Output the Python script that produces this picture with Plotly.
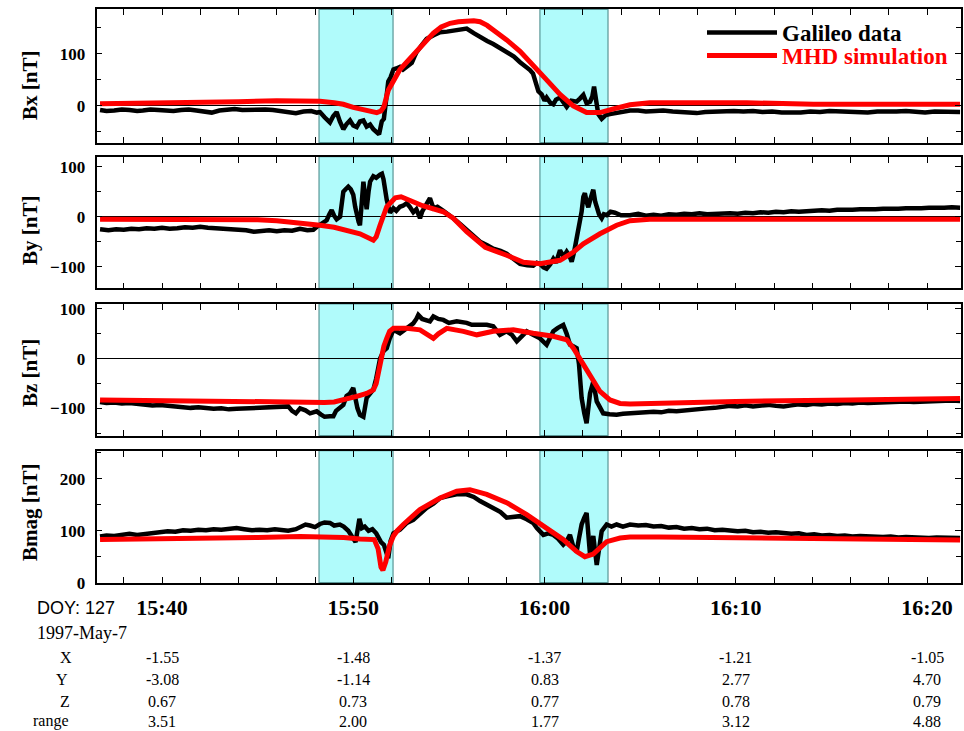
import pandas as pd
import plotly.graph_objects as go
from plotly.subplots import make_subplots

BASE = pd.Timestamp("1997-05-07 15:00:00")

# ---- Galileo magnetometer data (time in minutes after 15:00 UT, field in nT) ----
gal_bx_t = [36.76, 37.1, 37.5, 37.9, 38.3, 38.7, 39.0, 39.4, 39.8, 40.2, 40.6, 41.0, 41.4, 41.8,
            42.2, 42.6, 43.0, 43.4, 43.8, 44.2, 44.6, 45.0, 45.4, 45.8, 46.2, 46.6, 47.0, 47.4,
            47.8, 48.1, 48.26, 48.5, 48.78, 48.95, 49.13, 49.3, 49.48, 49.65,
            49.83, 50.0, 50.18, 50.35, 50.53, 50.7, 50.88, 51.05, 51.23, 51.35, 51.49, 51.6,
            51.71, 51.83, 51.95, 52.1, 52.25, 52.44, 52.6, 52.79, 52.95, 53.06, 53.2, 53.32,
            53.6, 53.84, 54.2, 54.54, 54.9, 55.23, 55.6, 55.93, 56.3, 56.63, 57.0, 57.32, 57.7,
            58.02, 58.4, 58.72, 59.0, 59.24, 59.4, 59.5, 59.6, 59.68, 59.85, 60.0, 60.11, 60.3,
            60.46, 60.6, 60.81, 61.0, 61.16, 61.4, 61.68, 61.85, 62.03, 62.2, 62.38, 62.5, 62.59,
            62.7, 62.81, 62.99, 63.2, 63.42, 63.7, 63.95, 64.47, 64.9, 65.3, 65.8, 66.2, 66.7,
            67.1, 67.5, 67.96, 68.4, 68.9, 69.4, 69.9, 70.4, 70.9, 71.4, 71.9, 72.4, 72.9, 73.4,
            73.9, 74.4, 74.9, 75.4, 75.9, 76.4, 76.9, 77.4, 77.9, 78.4, 78.9, 79.4, 79.9, 80.4,
            80.9, 81.3, 81.73]
gal_bx = [-8, -10, -9, -7, -8, -10, -9, -7, -8, -9, -10, -8, -7, -9,
          -11, -13, -9, -8, -6, -8, -7, -6, -7, -8, -10, -13, -14, -11,
          -10, -13, -12, -22, -32, -20, -12, -30, -45, -35,
          -28, -38, -41, -30, -28, -40, -36, -45, -50, -55, -30, -25,
          9, 47, 55, 70, 72, 75, 70, 75, 78, 83, 95, 104,
          118, 129, 136, 142, 143, 145, 146, 149, 140, 132, 125, 119, 111,
          104, 95, 84, 77, 69, 62, 50, 38, 28, 22, 10, 16, 6,
          3, 12, 16, 5, -2, 10, 8, 14, 21, 5, 8, 18, 37,
          10, -16, -25, -18, -16, -14, -12, -9, -9, -11, -10, -9, -11,
          -12, -11, -14, -12, -11, -12, -10, -11, -10, -12, -11, -13, -14, -13,
          -11, -12, -10, -11, -10, -12, -13, -11, -12, -11, -10, -12, -13, -11,
          -12, -13, -12]

gal_by_t = [36.76, 37.2, 37.6, 38.0, 38.4, 38.8, 39.2, 39.6, 40.0, 40.4, 40.8, 41.2, 41.6, 42.0,
            42.4, 42.8, 43.2, 43.6, 44.0, 44.4, 44.8, 45.2, 45.6, 46.0, 46.4, 46.8, 47.22, 47.6,
            47.91, 48.1, 48.26, 48.45, 48.61, 48.75, 48.87, 49.0, 49.13, 49.31, 49.4, 49.48,
            49.6, 49.74, 49.87, 50.0, 50.1, 50.18, 50.28, 50.35, 50.45, 50.53, 50.62, 50.7,
            50.8, 50.88, 51.05, 51.2, 51.4, 51.5, 51.58, 51.75, 51.92, 52.1, 52.25, 52.44,
            52.6, 52.79, 52.95, 53.14, 53.3, 53.49, 53.6, 53.75, 53.9, 54.01, 54.19, 54.4,
            54.71, 55.0, 55.23, 55.6, 55.93, 56.3, 56.63, 57.0, 57.32, 57.7, 58.02, 58.4,
            58.72, 59.1, 59.41, 59.6, 59.76, 59.95, 60.11, 60.3, 60.46, 60.6, 60.81, 61.0,
            61.16, 61.3, 61.42, 61.55, 61.68, 61.8, 61.94, 62.03, 62.11, 62.2, 62.29, 62.4,
            62.55, 62.65, 62.72, 62.85, 62.99, 63.1, 63.25, 63.45, 63.68, 64.0, 64.47, 64.9,
            65.3, 65.7, 66.1, 66.5, 66.9, 67.3, 67.7, 68.1, 68.5, 68.9, 69.3, 69.7, 70.1,
            70.5, 70.9, 71.3, 71.7, 72.1, 72.5, 72.9, 73.3, 73.7, 74.1, 74.5, 74.9, 75.3,
            75.7, 76.1, 76.5, 76.9, 77.3, 77.7, 78.1, 78.5, 78.9, 79.3, 79.7, 80.1, 80.5,
            80.9, 81.3, 81.73]
gal_by = [-25, -27, -25, -26, -24, -25, -23, -24, -22, -24, -23, -21, -22, -20,
          -22, -23, -22, -24, -25, -27, -30, -28, -27, -29, -27, -28, -24, -27,
          -26, -20, -16, -10, -7, 5, 13, 2, -5, 0, 30, 50,
          55, 60, 55, 44, 20, 3, -10, -17, 40, 70, 40, 15,
          50, 70, 81, 78, 84, 86, 75, 34, 8, 17, 12, 20,
          22, 27, 20, 9, 15, -3, 10, 20, 28, 37, 17, 20,
          12, 5, -3, -15, -27, -40, -50, -57, -64, -68, -74, -85,
          -94, -97, -98, -92, -94, -101, -104, -95, -84, -92, -67, -80,
          -70, -78, -90, -70, -44, -10, 10, 40, 47, 30, 19, 35,
          54, 30, 19, 5, -3, 5, 3, 10, 8, 3, 3, 6,
          2, 4, 2, 5, 4, 6, 5, 7, 5, 6, 5, 7, 6,
          8, 7, 9, 8, 10, 9, 11, 10, 12, 12, 13, 12, 14,
          13, 14, 15, 14, 15, 16, 15, 16, 17, 16, 17, 18, 17,
          18, 19, 18]

gal_bz_t = [36.76, 37.1, 37.5, 37.9, 38.3, 38.7, 39.1, 39.5, 39.9, 40.3, 40.7, 41.1, 41.5, 41.9,
            42.3, 42.7, 43.1, 43.5, 43.9, 44.3, 44.7, 45.1, 45.5, 45.9, 46.34, 46.6,
            46.8, 47.0, 47.22, 47.5, 47.74, 48.09, 48.3, 48.5, 48.78, 48.96, 49.1, 49.3, 49.48,
            49.65, 49.83, 50.0, 50.12, 50.22, 50.35, 50.53, 50.7, 50.88, 51.05, 51.2, 51.4,
            51.58, 51.75, 51.9, 52.1, 52.44, 52.79, 53.14, 53.3, 53.4, 53.6, 53.84, 54.01,
            54.19, 54.45, 54.71, 55.0, 55.41, 55.93, 56.2, 56.46, 56.98, 57.32, 57.67, 58.02,
            58.3, 58.55, 58.8, 59.07, 59.4, 59.76, 60.11, 60.3, 60.46, 60.7, 60.98, 61.16,
            61.33, 61.5, 61.68, 61.8, 61.94, 62.08, 62.2, 62.38, 62.55, 62.73, 62.9, 63.07,
            63.4, 63.77, 64.1, 64.47, 64.9, 65.3, 65.7, 66.1, 66.5, 66.9, 67.3, 67.7, 68.1,
            68.5, 68.9, 69.3, 69.7, 70.1, 70.5, 70.9, 71.3, 71.7, 72.1, 72.5, 72.9, 73.3,
            73.7, 74.1, 74.5, 74.9, 75.3, 75.7, 76.1, 76.5, 76.9, 77.3, 77.7, 78.1, 78.5,
            78.9, 79.3, 79.7, 80.1, 80.5, 80.9, 81.3, 81.73]
gal_bz = [-87, -89, -88, -90, -89, -91, -92, -94, -93, -95, -96, -97, -99, -98,
          -100, -101, -100, -102, -101, -100, -99, -98, -97, -98, -97, -96,
          -105, -110, -100, -104, -110, -106, -112, -117, -116, -116, -105, -100, -93,
          -75, -70, -59, -85, -100, -113, -117, -79, -70, -62, -40, 0,
          15, 21, 40, 58, 51, 60, 71, 80, 88, 80, 78, 75,
          85, 80, 78, 72, 75, 72, 68, 68, 68, 65, 48, 55,
          48, 35, 45, 55, 48, 41, 28, 45, 55, 62, 68, 50,
          28, 25, 21, -10, -79, -110, -130, -70, -46, -86, -100, -110,
          -112, -113, -111, -110, -108, -109, -107, -108, -105, -106, -104, -103, -102,
          -100, -99, -97, -95, -96, -94, -96, -94, -93, -95, -96, -94, -92,
          -93, -91, -92, -90, -91, -89, -90, -88, -89, -88, -87, -88, -87,
          -86, -87, -86, -85, -86, -85, -84, -85]

gal_bmag_t = [36.76, 37.1, 37.5, 37.9, 38.3, 38.7, 39.1, 39.5, 39.9, 40.3, 40.7, 41.1, 41.5, 41.9,
              42.3, 42.7, 43.1, 43.5, 43.9, 44.3, 44.7, 45.1, 45.5, 45.9, 46.3, 46.6, 47.0,
              47.22, 47.5, 47.74, 48.0, 48.26, 48.5, 48.78, 49.0, 49.3, 49.5, 49.74, 49.95,
              50.12, 50.22, 50.32, 50.45, 50.6, 50.8, 51.0, 51.2, 51.45, 51.6, 51.83, 51.95,
              52.1, 52.44, 52.8, 53.14, 53.49, 53.84, 54.19, 54.54, 54.9, 55.4, 55.93, 56.3,
              56.63, 57.0, 57.32, 57.7, 58.02, 58.37, 58.72, 59.07, 59.41, 59.6, 59.94, 60.2,
              60.46, 60.7, 60.98, 61.16, 61.33, 61.5, 61.68, 61.8, 61.94, 62.08, 62.2, 62.38,
              62.55, 62.73, 62.99, 63.25, 63.5, 63.77, 64.1, 64.47, 64.9, 65.3, 65.7, 66.1,
              66.5, 66.9, 67.3, 67.7, 68.1, 68.5, 68.9, 69.3, 69.7, 70.1, 70.5, 70.9, 71.3,
              71.7, 72.1, 72.5, 72.9, 73.3, 73.7, 74.1, 74.5, 74.9, 75.3, 75.7, 76.1, 76.5,
              76.9, 77.3, 77.7, 78.1, 78.5, 78.9, 79.3, 79.7, 80.1, 80.5, 80.9, 81.3, 81.73]
gal_bmag = [89, 91, 90, 93, 94, 92, 94, 96, 97, 99, 98, 101, 100, 102,
            101, 103, 102, 104, 105, 103, 101, 102, 101, 103, 102, 100, 103,
            108, 112, 110, 107, 113, 116, 115, 110, 112, 108, 100, 88,
            78, 100, 123, 105, 108, 100, 103, 95, 78, 73, 47, 80,
            95, 102, 115, 121, 133, 144, 152, 163, 166, 170, 170, 165,
            157, 150, 144, 136, 125, 126, 128, 122, 115, 105, 92, 95,
            92, 85, 73, 80, 92, 70, 60, 85, 112, 125, 134, 54,
            90, 34, 99, 112, 108, 112, 108, 112, 110, 111, 108, 109,
            106, 107, 104, 105, 103, 104, 101, 102, 100, 99, 100, 97, 98,
            96, 97, 95, 94, 95, 92, 93, 91, 92, 90, 91, 89, 90,
            89, 90, 88, 89, 87, 88, 87, 88, 86, 87, 86, 87, 86]

# ---- MHD simulation along the trajectory ----
mhd_bx_t = [36.76, 40.0, 44.0, 46.0, 47.22, 48.26, 49.0, 49.48, 50.0, 50.7, 51.23, 51.45, 51.6,
            51.83, 52.1, 52.44, 52.79, 53.32, 53.8, 54.19, 54.6, 55.06, 55.5, 55.93, 56.3,
            56.63, 57.0, 57.32, 58.02, 58.72, 59.41, 60.11, 60.81, 61.5, 62.2, 62.9, 63.6,
            64.47, 65.5, 68.0, 70.57, 74.06, 81.73]
mhd_bx = [4, 5, 8, 10, 10, 9, 6, 3, -3, -10, -13, -10, -2,
          30, 50, 70, 84, 105, 125, 140, 152, 159, 162, 163, 164,
          162, 155, 146, 127, 105, 79, 50, 22, 0, -13, -13, -6,
          2, 6, 7, 6, 3, 3]

mhd_by_t = [36.76, 40.0, 43.0, 45.0, 46.0, 47.22, 48.26, 49.0, 50.35, 51.05, 51.2, 51.4, 51.75,
            52.2, 52.5, 53.0, 53.62, 54.71, 55.23, 55.93, 56.9, 58.02, 58.9, 59.76, 60.81,
            61.5, 62.03, 62.9, 63.77, 64.47, 65.5, 70.0, 81.73]
mhd_by = [-5, -5, -5, -6, -8, -12, -17, -21, -34, -47, -40, -17, 20,
          38, 40, 32, 22, 10, -3, -30, -61, -77, -91, -94, -87,
          -71, -54, -34, -17, -8, -5, -5, -5]

mhd_bz_t = [36.76, 40.0, 44.0, 47.22, 48.5, 49.0, 49.83, 50.18, 50.7, 51.05, 51.2, 51.4, 51.6,
            51.75, 51.9, 52.1, 52.79, 53.49, 53.9, 54.19, 54.45, 54.89, 55.76, 56.46, 57.32,
            58.37, 59.41, 60.46, 61.16, 61.51, 61.94, 62.38, 62.9, 63.42, 63.95, 64.47, 66.0,
            70.0, 76.0, 81.73]
mhd_bz = [-83, -85, -87, -89, -88, -87, -80, -76, -70, -63, -50, -12, 25,
          41, 55, 61, 61, 58, 48, 41, 50, 61, 55, 48, 55,
          58, 51, 45, 38, 21, -6, -33, -66, -83, -90, -91, -89,
          -86, -83, -80]

mhd_bmag_t = [36.76, 40.0, 42.0, 45.0, 47.22, 48.5, 49.5, 50.35, 50.8, 51.1, 51.3, 51.45, 51.55,
              51.7, 51.9, 52.1, 52.3, 52.62, 53.49, 54.54, 55.41, 56.1, 56.98, 58.02, 59.07,
              60.11, 60.98, 61.68, 62.11, 62.55, 63.25, 63.95, 64.47, 66.0, 70.0, 75.0, 81.73]
mhd_bmag = [83, 84, 84, 87, 89, 88, 87, 84, 83, 83, 65, 30, 24,
            40, 72, 90, 100, 112, 141, 163, 176, 179, 170, 154, 131,
            105, 83, 60, 50, 55, 79, 86, 88, 88, 86, 84, 82]

# ---- panel settings ----
panel_titles = ["Bx [nT]", "By [nT]", "Bz [nT]", "Bmag [nT]"]
panel_ranges = [[-71, 186], [-143, 120], [-155, 110], [0, 254]]
title_centers_px = [86, 231, 373, 513]

# magnetopause crossing intervals (minutes after 15:00)
crossings = [(48.21, 52.08), (59.76, 63.32)]

# trajectory table below the time axis
table_times = [40, 50, 60, 70, 80]
table_rows = ["X", "Y", "Z", "range"]
pos_x = ["-1.55", "-1.48", "-1.37", "-1.21", "-1.05"]
pos_y = ["-3.08", "-1.14", "0.83", "2.77", "4.70"]
pos_z = ["0.67", "0.73", "0.77", "0.78", "0.79"]
pos_range = ["3.51", "2.00", "1.77", "3.12", "4.88"]


def to_time(minutes):
    return [BASE + pd.Timedelta(minutes=m) for m in minutes]


W, H = 964, 731
SERIF = "Liberation Serif"
SANS = "Liberation Sans"

fig = make_subplots(rows=4, cols=1, shared_xaxes=True, vertical_spacing=0.02)

galileo = [(gal_bx_t, gal_bx), (gal_by_t, gal_by), (gal_bz_t, gal_bz), (gal_bmag_t, gal_bmag)]
mhd = [(mhd_bx_t, mhd_bx), (mhd_by_t, mhd_by), (mhd_bz_t, mhd_bz), (mhd_bmag_t, mhd_bmag)]

for i in range(4):
    fig.add_trace(go.Scatter(x=to_time(galileo[i][0]), y=galileo[i][1], mode="lines",
                             line=dict(color="black", width=4.5),
                             name="Galileo data", legend="legend",
                             showlegend=(i == 0)), row=i + 1, col=1)
    fig.add_trace(go.Scatter(x=to_time(mhd[i][0]), y=mhd[i][1], mode="lines",
                             line=dict(color="#ff0000", width=5),
                             name="MHD simulation", legend="legend2",
                             showlegend=(i == 0)), row=i + 1, col=1)

# vertical layout of the four panels, from pixel edges
edges = [(9.3, 142.7), (156.7, 288.3), (304.0, 435.7), (450.7, 582.7)]
x_domain = [96.5 / W, 960.5 / W]
t_start = BASE + pd.Timedelta(minutes=36.575)
t_end = BASE + pd.Timedelta(minutes=81.75)

for i in range(4):
    top, bot = edges[i]
    sfx = "" if i == 0 else str(i + 1)
    fig.layout["yaxis" + sfx].update(
        domain=[1 - bot / H, 1 - top / H], range=panel_ranges[i], automargin=False,
        dtick=100, tick0=0, ticks="inside", ticklen=6, tickwidth=1.2, tickcolor="black",
        minor=dict(dtick=50, tick0=0, ticks="inside", ticklen=5, tickwidth=1.2, tickcolor="black"),
        showgrid=False, zeroline=(i < 3), zerolinecolor="black", zerolinewidth=1,
        showline=True, linecolor="black", linewidth=1.6, mirror="allticks",
        tickfont=dict(family=SERIF, size=17, color="black", weight="bold"),
        ticklabelstandoff=6,
    )
    fig.layout["xaxis" + sfx].update(
        domain=x_domain, range=[t_start, t_end], type="date", automargin=False,
        tick0=BASE + pd.Timedelta(minutes=40), dtick=600000,
        ticks="inside", ticklen=6, tickwidth=1.2, tickcolor="black",
        minor=dict(dtick=120000, ticks="inside", ticklen=6, tickwidth=1.2, tickcolor="black"),
        showgrid=False, zeroline=False,
        showline=True, linecolor="black", linewidth=1.6, mirror="allticks",
        tickformat="%H:%M", showticklabels=(i == 3),
        tickfont=dict(family=SERIF, size=22, color="black", weight="bold"),
        ticklabelstandoff=4,
    )

    # shaded crossing intervals
    for (a, b) in crossings:
        fig.add_shape(type="rect", xref="x" + sfx, yref="y" + sfx + " domain",
                      x0=BASE + pd.Timedelta(minutes=a), x1=BASE + pd.Timedelta(minutes=b),
                      y0=0, y1=1, fillcolor="#b0fbfb",
                      line=dict(color="#5a9797", width=1.2), layer="below")

    # y-axis titles
    fig.add_annotation(text=panel_titles[i], xref="paper", yref="paper",
                       x=30 / W, y=1 - title_centers_px[i] / H, textangle=-90,
                       xanchor="center", yanchor="middle", showarrow=False,
                       font=dict(family=SERIF, size=21, color="black", weight="bold"))

# time-axis header and trajectory table
fig.add_annotation(text="DOY: 127", xref="paper", yref="paper", x=35 / W, y=1 - 608 / H,
                   xanchor="left", yanchor="middle", showarrow=False,
                   font=dict(family=SANS, size=18, color="black"))
fig.add_annotation(text="1997-May-7", xref="paper", yref="paper", x=35 / W, y=1 - 633 / H,
                   xanchor="left", yanchor="middle", showarrow=False,
                   font=dict(family=SERIF, size=18, color="black"))

row_y = [657, 679, 701, 721]
row_label_x = [66, 62, 65, 51]
row_values = [pos_x, pos_y, pos_z, pos_range]
for r in range(4):
    fig.add_annotation(text=table_rows[r], xref="paper", yref="paper",
                       x=row_label_x[r] / W, y=1 - row_y[r] / H,
                       xanchor="center", yanchor="middle", showarrow=False,
                       font=dict(family=SERIF, size=16, color="black"))
    for k, tm in enumerate(table_times):
        fig.add_annotation(text=row_values[r][k], xref="x4", yref="paper",
                           x=BASE + pd.Timedelta(minutes=tm), y=1 - row_y[r] / H,
                           xanchor="center", yanchor="middle", showarrow=False,
                           font=dict(family=SERIF, size=16, color="black"))

legend_common = dict(xanchor="left", yanchor="top", bgcolor="rgba(0,0,0,0)",
                     itemwidth=70, borderwidth=0)
fig.update_layout(
    width=W, height=H, margin=dict(l=0, r=0, t=0, b=0, autoexpand=False),
    paper_bgcolor="white", plot_bgcolor="white",
    legend=dict(x=702 / W, y=1 - 11 / H,
                font=dict(family=SERIF, size=23, color="black", weight="bold"), **legend_common),
    legend2=dict(x=702 / W, y=1 - 34 / H,
                 font=dict(family=SERIF, size=23, color="#ff0000", weight="bold"), **legend_common),
)

fig.write_html("out.html")
